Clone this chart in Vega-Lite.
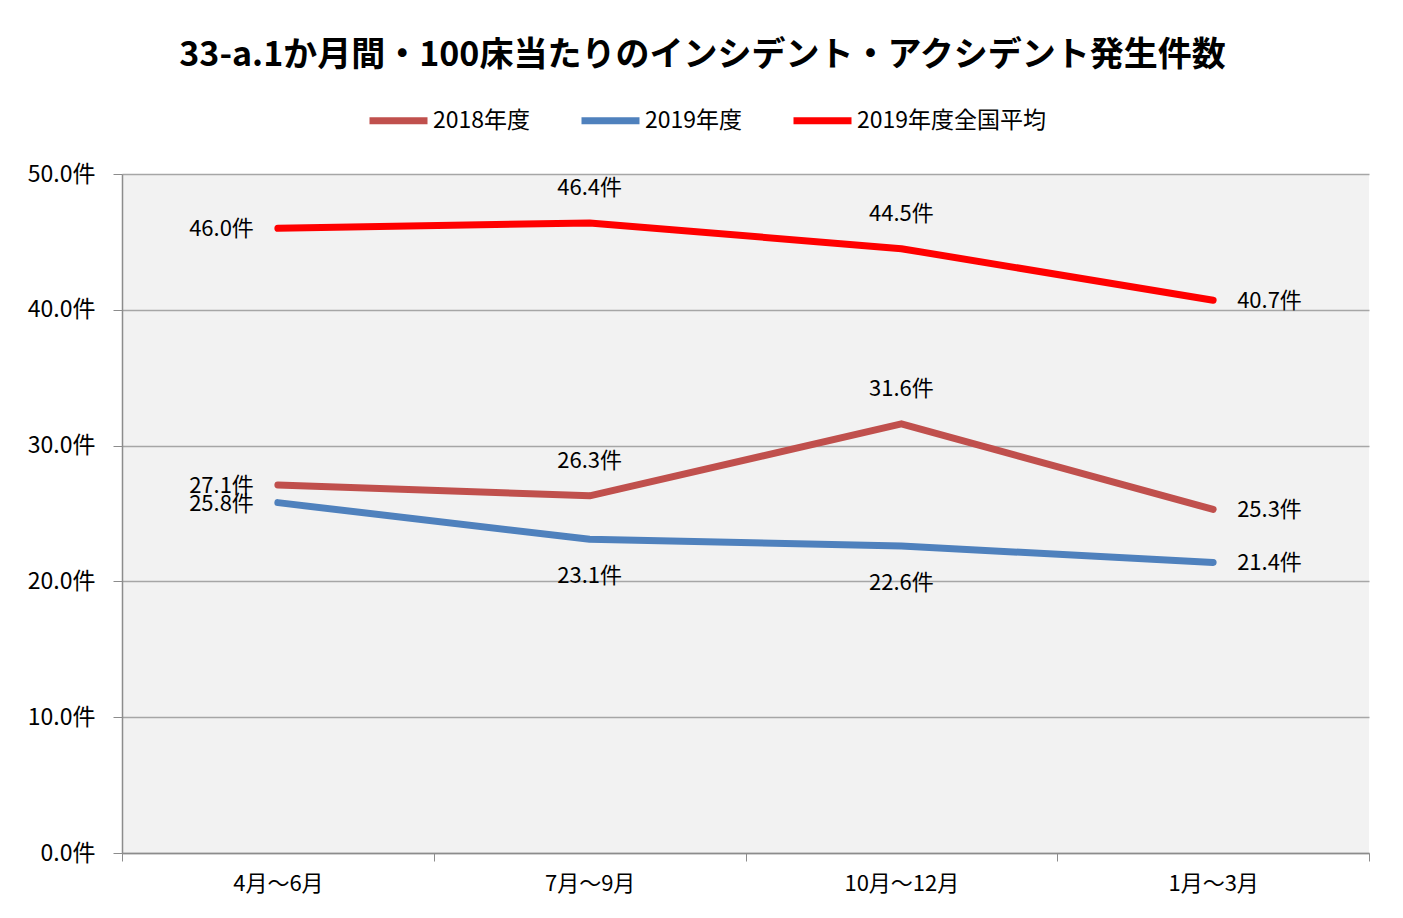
{
  "$schema": "https://vega.github.io/schema/vega-lite/v6.json",
  "width": 1247,
  "height": 679,
  "autosize": {"type": "none"},
  "padding": {"left": 122, "top": 174, "right": 34, "bottom": 65},
  "background": "white",
  "title": {
    "text": "33-a.1か月間・100床当たりのインシデント・アクシデント発生件数",
    "font": "Noto Sans CJK JP",
    "fontSize": 34,
    "fontWeight": "bold",
    "color": "#000000",
    "anchor": "middle",
    "dx": -43,
    "offset": 15
  },
  "data": {
    "values": [
      {"quarter": "4月～6月", "series": "2018年度", "value": 27.1},
      {"quarter": "7月～9月", "series": "2018年度", "value": 26.3},
      {"quarter": "10月～12月", "series": "2018年度", "value": 31.6},
      {"quarter": "1月～3月", "series": "2018年度", "value": 25.3},
      {"quarter": "4月～6月", "series": "2019年度", "value": 25.8},
      {"quarter": "7月～9月", "series": "2019年度", "value": 23.1},
      {"quarter": "10月～12月", "series": "2019年度", "value": 22.6},
      {"quarter": "1月～3月", "series": "2019年度", "value": 21.4},
      {"quarter": "4月～6月", "series": "2019年度全国平均", "value": 46.0},
      {"quarter": "7月～9月", "series": "2019年度全国平均", "value": 46.4},
      {"quarter": "10月～12月", "series": "2019年度全国平均", "value": 44.5},
      {"quarter": "1月～3月", "series": "2019年度全国平均", "value": 40.7}
    ]
  },
  "transform": [
    {"calculate": "format(datum.value, '.1f') + '件'", "as": "label"}
  ],
  "encoding": {
    "x": {
      "field": "quarter",
      "type": "nominal",
      "sort": null,
      "bandPosition": 0.5,
      "scale": {"type": "band", "paddingInner": 0, "paddingOuter": 0},
      "axis": {
        "title": null,
        "labelAngle": 0,
        "labelFont": "Noto Sans CJK JP",
        "labelFontSize": 22,
        "labelColor": "#000000",
        "labelPadding": 12,
        "tickBand": "extent",
        "tickSize": 8,
        "tickColor": "#8c8c8c",
        "domainColor": "#8c8c8c",
        "domainWidth": 1.5,
        "grid": false
      }
    },
    "y": {
      "field": "value",
      "type": "quantitative",
      "scale": {"domain": [0, 50]},
      "axis": {
        "title": null,
        "values": [0, 10, 20, 30, 40, 50],
        "labelExpr": "format(datum.value, '.1f') + '件'",
        "labelFont": "Noto Sans CJK JP",
        "labelFontSize": 23,
        "labelColor": "#000000",
        "labelPadding": 18,
        "tickSize": 9,
        "tickColor": "#8c8c8c",
        "domainColor": "#8c8c8c",
        "domainWidth": 1.5,
        "grid": true,
        "gridColor": "#a6a6a6",
        "gridWidth": 1.5
      }
    }
  },
  "layer": [
    {
      "mark": {"type": "line", "strokeWidth": 7, "strokeCap": "round", "strokeJoin": "round"},
      "encoding": {
        "color": {
          "field": "series",
          "type": "nominal",
          "scale": {
            "domain": ["2018年度", "2019年度", "2019年度全国平均"],
            "range": ["#C0504D", "#4F81BD", "#FF0000"]
          },
          "legend": {
            "title": null,
            "orient": "none",
            "legendX": 244,
            "legendY": -86,
            "direction": "horizontal",
            "symbolType": "stroke",
            "symbolSize": 3364,
            "symbolStrokeWidth": 7,
            "labelFont": "Noto Sans CJK JP",
            "labelFontSize": 23,
            "labelColor": "#000000",
            "labelOffset": 2,
            "labelLimit": 400,
            "columnPadding": 36
          }
        }
      }
    },
    {
      "transform": [{"filter": "datum.quarter === '4月～6月'"}],
      "mark": {"type": "text", "align": "right", "baseline": "middle", "dx": -24, "dy": 1, "font": "Noto Sans CJK JP", "fontSize": 22, "color": "#000000"},
      "encoding": {"text": {"field": "label"}}
    },
    {
      "transform": [{"filter": "datum.quarter === '1月～3月'"}],
      "mark": {"type": "text", "align": "left", "baseline": "middle", "dx": 24, "dy": 1, "font": "Noto Sans CJK JP", "fontSize": 22, "color": "#000000"},
      "encoding": {"text": {"field": "label"}}
    },
    {
      "transform": [{"filter": "(datum.quarter === '7月～9月' || datum.quarter === '10月～12月') && datum.series !== '2019年度'"}],
      "mark": {"type": "text", "align": "center", "baseline": "middle", "dy": -35, "font": "Noto Sans CJK JP", "fontSize": 22, "color": "#000000"},
      "encoding": {"text": {"field": "label"}}
    },
    {
      "transform": [{"filter": "(datum.quarter === '7月～9月' || datum.quarter === '10月～12月') && datum.series === '2019年度'"}],
      "mark": {"type": "text", "align": "center", "baseline": "middle", "dy": 37, "font": "Noto Sans CJK JP", "fontSize": 22, "color": "#000000"},
      "encoding": {"text": {"field": "label"}}
    }
  ],
  "config": {
    "view": {"fill": "#F2F2F2", "stroke": null}
  }
}
